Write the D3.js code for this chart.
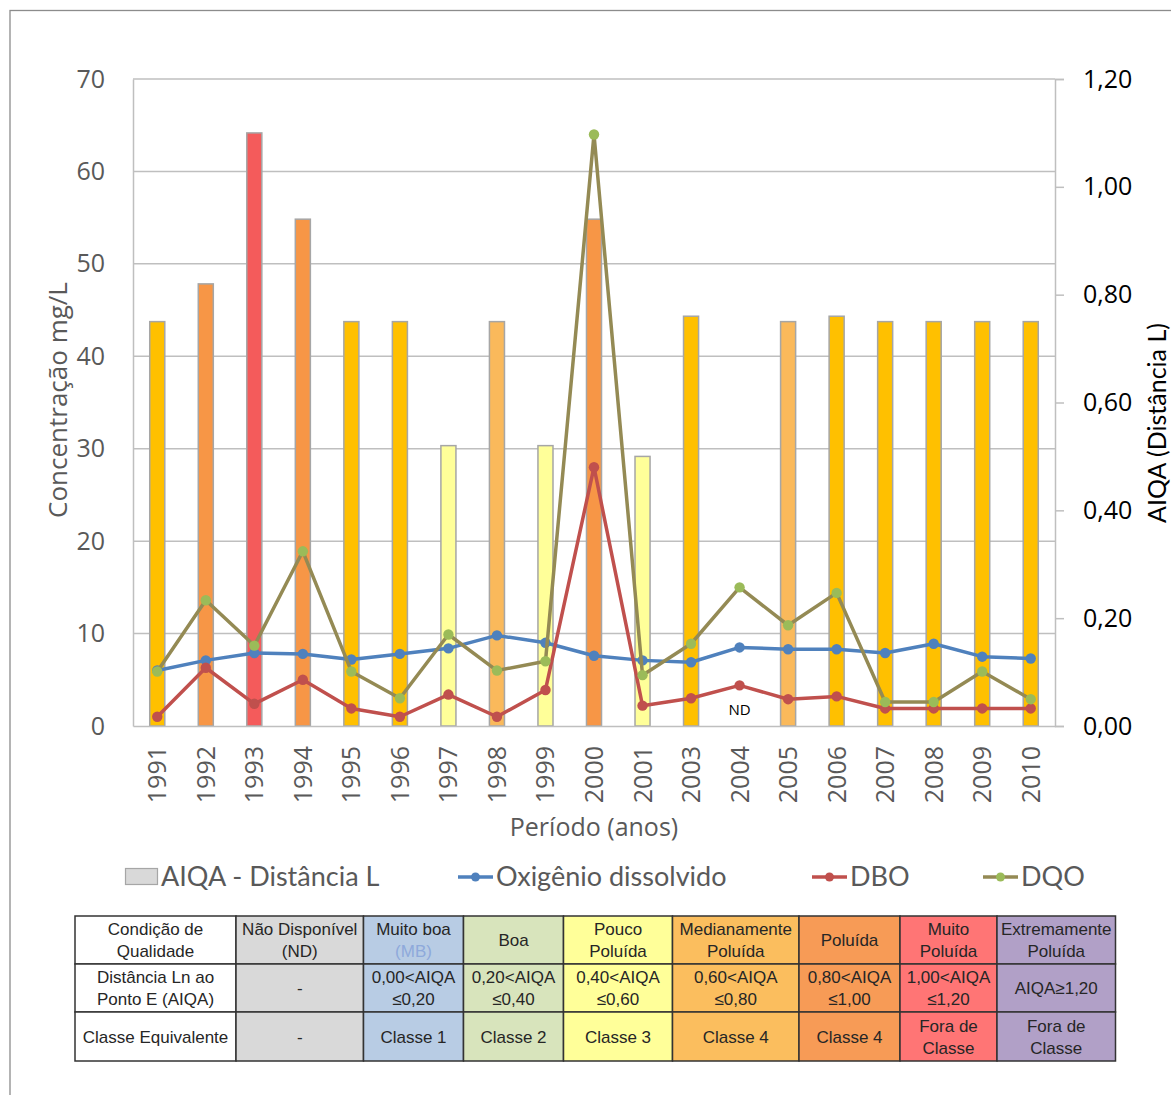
<!DOCTYPE html>
<html>
<head>
<meta charset="utf-8">
<script src="https://cdn.jsdelivr.net/npm/d3@7"></script>
<style>
  html, body { margin: 0; padding: 0; background: #fff; }
  svg { display: block; }
</style>
</head>
<body>
<svg id="chart" width="1171" height="1095"></svg>
<script>
// Anos amostrados (2002 sem campanha)
const years = ["1991","1992","1993","1994","1995","1996","1997","1998","1999","2000",
               "2001","2003","2004","2005","2006","2007","2008","2009","2010"];

// AIQA - Distância L (eixo direito); 2004 não disponível
const aiqa = [0.75, 0.82, 1.10, 0.94, 0.75, 0.75, 0.52, 0.75, 0.52, 0.94,
              0.50, 0.76, null, 0.75, 0.76, 0.75, 0.75, 0.75, 0.75];

// Tom de cada barra
const barTone = ["ouro","laranja","vermelho","laranja","ouro","ouro","amarelo","pessego","amarelo","laranja",
                 "amarelo","ouro",null,"pessego","ouro","ouro","ouro","ouro","ouro"];

// Concentrações (mg/L, eixo esquerdo)
const oxigenio = [6.0, 7.1, 7.9, 7.8, 7.2, 7.8, 8.4, 9.8, 9.0, 7.6,
                  7.1, 6.9, 8.5, 8.3, 8.3, 7.9, 8.9, 7.5, 7.3];
const dbo      = [1.0, 6.3, 2.4, 5.0, 1.9, 1.0, 3.4, 1.0, 3.9, 28.0,
                  2.2, 3.0, 4.4, 2.9, 3.2, 1.9, 1.9, 1.9, 1.9];
const dqo      = [5.9, 13.6, 8.7, 18.9, 5.9, 3.0, 9.9, 6.0, 7.0, 64.0,
                  5.5, 8.9, 15.0, 10.9, 14.4, 2.6, 2.6, 5.9, 2.9];

const leftTicks  = [0, 10, 20, 30, 40, 50, 60, 70];
const rightTicks = [0, 0.2, 0.4, 0.6, 0.8, 1.0, 1.2];

// Tabela de classes de qualidade
const tableHeader = ["Condição de\nQualidade", "Não Disponível\n(ND)", "Muito boa\n(MB)", "Boa",
                     "Pouco\nPoluída", "Medianamente\nPoluída", "Poluída", "Muito\nPoluída", "Extremamente\nPoluída"];
const tableRange  = ["Distância Ln ao\nPonto E (AIQA)", "-", "0,00<AIQA\n≤0,20", "0,20<AIQA\n≤0,40",
                     "0,40<AIQA\n≤0,60", "0,60<AIQA\n≤0,80", "0,80<AIQA\n≤1,00", "1,00<AIQA\n≤1,20", "AIQA≥1,20"];
const tableClass  = ["Classe Equivalente", "-", "Classe 1", "Classe 2", "Classe 3", "Classe 4", "Classe 4",
                     "Fora de\nClasse", "Fora de\nClasse"];

const toneColor = {
  ouro: "#FFC000", laranja: "#F79646", vermelho: "#F45B5B",
  amarelo: "#FFFF99", pessego: "#FAB95B"
};
const cellColor = ["#FFFFFF", "#D9D9D9", "#B8CCE4", "#D8E4BC", "#FFFF99",
                   "#FBBE5E", "#F79B56", "#FF7575", "#B1A0C7"];
const colEdges = [75, 236, 363.5, 463.5, 563.5, 672.5, 799, 900, 997, 1115.5];
const rowEdges = [916, 964, 1012, 1061];

const svg = d3.select("#chart");
const M = { left: 133, right: 1055, top: 79, bottom: 726 };

// Moldura externa
svg.append("rect").attr("x", 10).attr("y", 10.5).attr("width", 1300).attr("height", 1300)
  .attr("fill", "#fff").attr("stroke", "#8c8c8c").attr("stroke-width", 1.3);

const x = d3.scaleBand().domain(years).range([M.left, M.right]).padding(0);
const yL = d3.scaleLinear().domain([0, 70]).range([M.bottom, M.top]);
const yR = d3.scaleLinear().domain([0, 1.2]).range([M.bottom, M.top]);
const cx = d => x(d) + x.bandwidth() / 2;
const barW = x.bandwidth() * 0.31;

// Linhas de grade
svg.append("g").selectAll("line").data(leftTicks.filter(t => t > 0)).join("line")
  .attr("x1", M.left).attr("x2", M.right)
  .attr("y1", d => yL(d)).attr("y2", d => yL(d))
  .attr("stroke", "#BFBFBF").attr("stroke-width", 1.5);

// Eixo esquerdo
const axL = svg.append("g").attr("transform", `translate(${M.left},0)`)
  .call(d3.axisLeft(yL).tickValues(leftTicks).tickSize(0).tickPadding(28).tickFormat(d3.format("d")));
axL.select(".domain").attr("stroke", "#BFBFBF").attr("stroke-width", 1.5);
axL.selectAll("text").attr("font-family", "'Open Sans', sans-serif").attr("font-size", 25)
  .attr("fill", "#595959");

// Eixo direito
const axR = svg.append("g").attr("transform", `translate(${M.right},0)`)
  .call(d3.axisRight(yR).tickValues(rightTicks).tickSize(9).tickPadding(19)
    .tickFormat(d => d3.format(".2f")(d).replace(".", ",")));
axR.select(".domain").attr("stroke", "#BFBFBF").attr("stroke-width", 1.5);
axR.selectAll(".tick line").attr("stroke", "#BFBFBF").attr("stroke-width", 1.5);
axR.selectAll("text").attr("font-family", "'Open Sans', sans-serif").attr("font-size", 25)
  .attr("fill", "#000");

// Barras AIQA
svg.append("g").selectAll("rect")
  .data(years.map((y, i) => ({ y, v: aiqa[i], tone: barTone[i] })).filter(d => d.v != null))
  .join("rect")
  .attr("x", d => cx(d.y) - barW / 2)
  .attr("width", barW)
  .attr("y", d => yR(d.v))
  .attr("height", d => yR(0) - yR(d.v))
  .attr("fill", d => toneColor[d.tone])
  .attr("stroke", "#A6A6A6").attr("stroke-width", 1.5);

// Eixo inferior
const axB = svg.append("g").attr("transform", `translate(0,${M.bottom})`)
  .call(d3.axisBottom(x).tickSize(0).tickPadding(0));
axB.select(".domain").attr("stroke", "#BFBFBF").attr("stroke-width", 1.5);
axB.selectAll("text")
  .attr("font-family", "'Open Sans', sans-serif").attr("font-size", 25).attr("fill", "#595959")
  .attr("text-anchor", "end").attr("transform", "rotate(-90)")
  .attr("x", -20).attr("y", 0).attr("dy", "0.36em");

// Séries de linha
const series = [
  { name: "Oxigênio dissolvido", vals: oxigenio, line: "#4F81BD", dot: "#4F81BD" },
  { name: "DBO", vals: dbo, line: "#C0504D", dot: "#C0504D" },
  { name: "DQO", vals: dqo, line: "#948A54", dot: "#9BBB59" }
];
const lineGen = d3.line().x(d => cx(d.y)).y(d => yL(d.v));
series.forEach(s => {
  const pts = years.map((y, i) => ({ y, v: s.vals[i] }));
  svg.append("path").datum(pts).attr("d", lineGen)
    .attr("fill", "none").attr("stroke", s.line).attr("stroke-width", 3.5)
    .attr("stroke-linejoin", "round");
  svg.append("g").selectAll("circle").data(pts).join("circle")
    .attr("cx", d => cx(d.y)).attr("cy", d => yL(d.v)).attr("r", 5.2)
    .attr("fill", s.dot);
});

// Marcação de dado não disponível
svg.append("text").attr("x", cx("2004")).attr("y", yL(0) - 11)
  .attr("text-anchor", "middle").attr("font-family", "'Open Sans', sans-serif")
  .attr("font-size", 15).attr("fill", "#000").text("ND");

// Títulos dos eixos
svg.append("text").attr("transform", `translate(67,400) rotate(-90)`)
  .attr("text-anchor", "middle").attr("font-family", "'Open Sans', sans-serif")
  .attr("font-size", 26).attr("fill", "#595959").text("Concentração mg/L");
svg.append("text").attr("transform", `translate(1166,423) rotate(-90)`)
  .attr("text-anchor", "middle").attr("font-family", "Lato, sans-serif")
  .attr("font-size", 25).attr("fill", "#000").text("AIQA (Distância L)");
svg.append("text").attr("x", (M.left + M.right) / 2).attr("y", 836)
  .attr("text-anchor", "middle").attr("font-family", "'Open Sans', sans-serif")
  .attr("font-size", 25).attr("fill", "#595959").text("Período (anos)");

// Legenda
const legY = 877;
const leg = svg.append("g").attr("font-family", "Lato, sans-serif").attr("font-size", 27).attr("fill", "#595959");
leg.append("rect").attr("x", 125.5).attr("y", 868.5).attr("width", 32).attr("height", 16)
  .attr("fill", "#D9D9D9").attr("stroke", "#A6A6A6").attr("stroke-width", 1.2);
leg.append("text").attr("x", 161).attr("y", legY).attr("dy", "0.35em").text("AIQA - Distância L");
const legLines = [{ s: series[0], x0: 458 }, { s: series[1], x0: 812 }, { s: series[2], x0: 983 }];
legLines.forEach(({ s, x0 }) => {
  leg.append("line").attr("x1", x0).attr("x2", x0 + 35).attr("y1", legY).attr("y2", legY)
    .attr("stroke", s.line).attr("stroke-width", 3.5);
  leg.append("circle").attr("cx", x0 + 17.5).attr("cy", legY).attr("r", 4.5).attr("fill", s.dot);
  leg.append("text").attr("x", x0 + 38).attr("y", legY).attr("dy", "0.35em").text(s.name);
});

// Tabela de classes
const rows = [tableHeader, tableRange, tableClass];
const tbl = svg.append("g").attr("font-family", "'Liberation Sans', Arial, sans-serif").attr("font-size", 17);
rows.forEach((row, r) => {
  row.forEach((txt, c) => {
    const x0 = colEdges[c], x1 = colEdges[c + 1], y0 = rowEdges[r], y1 = rowEdges[r + 1];
    tbl.append("rect").attr("x", x0).attr("y", y0).attr("width", x1 - x0).attr("height", y1 - y0)
      .attr("fill", cellColor[c]).attr("stroke", "#333").attr("stroke-width", 1.5);
    const lines = txt.split("\n");
    const midY = (y0 + y1) / 2;
    const t = tbl.append("text").attr("text-anchor", "middle").attr("fill", "#262626");
    lines.forEach((ln, k) => {
      const ts = t.append("tspan").attr("x", (x0 + x1) / 2)
        .attr("y", midY + (k - (lines.length - 1) / 2) * 22).attr("dy", "0.36em").text(ln);
      if (r === 0 && c === 2 && k === 1) ts.attr("fill", "#8EA9DB");
    });
  });
});
</script>
</body>
</html>
